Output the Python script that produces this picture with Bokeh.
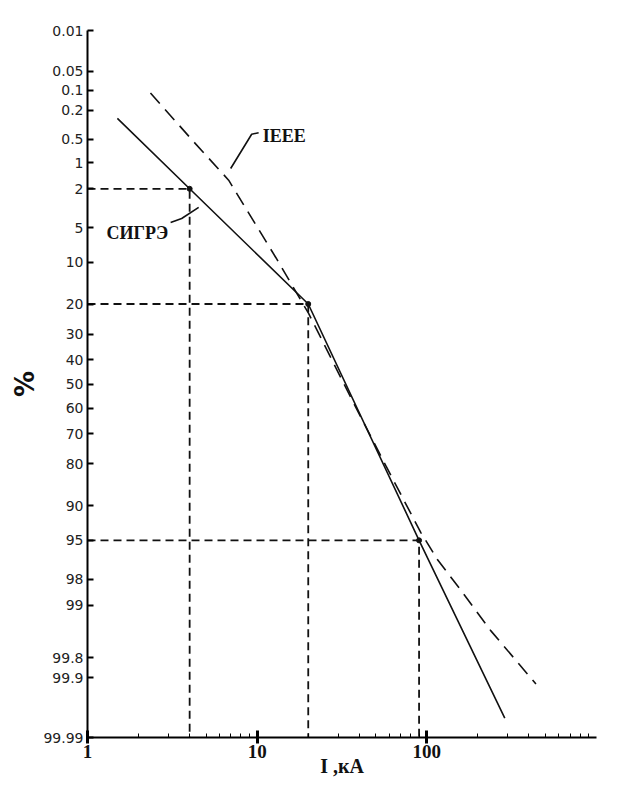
import math
from bokeh.plotting import figure
from bokeh.models import Range1d, FixedTicker, CustomJSTickFormatter
from bokeh.embed import file_html
from bokeh.resources import INLINE
from bokeh.core.properties import value

# ---- data ----
cigre_I = [1.5, 4, 20, 90, 288]
cigre_pct = [0.26, 2, 20, 95, 99.978]

ieee_I = [2.35, 4.16, 6.79, 12.9, 20.1, 35.6, 57.3, 92.2, 116, 158.8, 238.6, 439.6]
ieee_pct = [0.11, 0.52, 1.6, 9.2, 22.9, 55.6, 80.5, 94.1, 96.8, 98.5, 99.53, 99.92]

marker_I = [4, 20, 90]
marker_pct = [2, 20, 95]

y_tick_pct = [0.01, 0.05, 0.1, 0.2, 0.5, 1, 2, 5, 10, 20, 30, 40, 50, 60, 70, 80,
              90, 95, 98, 99, 99.8, 99.9, 99.99]
y_tick_labels = ["0.01", "0.05", "0.1", "0.2", "0.5", "1", "2", "5", "10", "20", "30",
                 "40", "50", "60", "70", "80", "90", "95", "98", "99", "99.8", "99.9",
                 "99.99"]
x_ticks = [1, 10, 100]

# annotations
ieee_label_I, ieee_label_pct = 10.78, 0.46
ieee_leader_I = [10.2, 9.28, 6.98]
ieee_leader_pct = [0.41, 0.43, 1.17]
cigre_label_I, cigre_label_pct = 1.294, 5.66
cigre_leader_I = [3.09, 3.59, 4.52]
cigre_leader_pct = [4.46, 4.08, 3.16]


def ppf(pct):
    """normal probability scale: percent -> standard normal quantile"""
    p = pct / 100.0
    lo, hi = -10.0, 10.0
    for _ in range(200):
        mid = (lo + hi) / 2
        if 0.5 * (1 + math.erf(mid / math.sqrt(2))) < p:
            lo = mid
        else:
            hi = mid
    return (lo + hi) / 2


def zs(lst):
    return [ppf(v) for v in lst]


z_top = ppf(0.01)
z_bot = ppf(99.99)

p = figure(x_axis_type="log", x_range=Range1d(1, 1000), y_range=Range1d(z_bot, z_top),
           frame_width=509, frame_height=707,
           min_border_left=87, min_border_top=30, min_border_right=20, min_border_bottom=8,
           output_backend="svg", toolbar_location=None)
p.outline_line_color = None
p.xgrid.grid_line_color = None
p.ygrid.grid_line_color = None
p.background_fill_color = "white"

# y axis (probability scale)
y_tick_z = zs(y_tick_pct)
yax = p.yaxis[0]
yax.ticker = FixedTicker(ticks=y_tick_z, minor_ticks=[])
yax.formatter = CustomJSTickFormatter(args=dict(zs=y_tick_z, labels=y_tick_labels), code="""
let best = -1, bd = 1e9;
for (let i = 0; i < zs.length; i++) { const d = Math.abs(zs[i] - tick); if (d < bd) { bd = d; best = i; } }
return bd < 1e-6 ? labels[best] : "";
""")
yax.major_tick_in = 6
yax.major_tick_out = 0
yax.minor_tick_in = 0
yax.minor_tick_out = 0
yax.axis_line_width = 2
yax.major_tick_line_width = 2
yax.major_label_standoff = 4
yax.major_label_text_font = "DejaVu Sans"
yax.major_label_text_font_size = "14px"
yax.major_label_text_color = "#222222"
yax.axis_label = "%"
yax.axis_label_text_font = "DejaVu Sans"
yax.axis_label_text_font_style = "bold"
yax.axis_label_text_font_size = "26px"
yax.axis_label_text_color = "#111111"
yax.axis_label_standoff = 0

# x axis (log)
xax = p.xaxis[0]
minor = [m * d for d in (1, 10, 100) for m in range(2, 10)]
xax.ticker = FixedTicker(ticks=x_ticks, minor_ticks=minor)
xax.formatter = CustomJSTickFormatter(code="return tick.toFixed(0);")
xax.major_tick_in = 7
xax.major_tick_out = 6
xax.minor_tick_in = 4
xax.minor_tick_out = 0
xax.axis_line_width = 2
xax.major_tick_line_width = 3
xax.minor_tick_line_width = 1
xax.major_label_standoff = 1
xax.major_label_text_font = "Liberation Serif"
xax.major_label_text_font_style = "bold"
xax.major_label_text_font_size = "19px"
xax.major_label_text_color = "#111111"
xax.axis_label = "I ,кА"
xax.axis_label_text_font = "Liberation Serif"
xax.axis_label_text_font_style = "bold"
xax.axis_label_text_font_size = "20px"
xax.axis_label_text_color = "#111111"
xax.axis_label_standoff = -6

# guide lines (dashed): horizontal from axis, then vertical to the bottom
gx = [[1, xi, xi] for xi in marker_I]
gy = [[ppf(yi), ppf(yi), z_bot] for yi in marker_pct]
p.multi_line(xs=gx, ys=gy, line_color="#111111", line_width=1.8, line_dash="8 5")

# IEEE dashed curve
p.line(ieee_I, zs(ieee_pct), line_color="#111111", line_width=1.6, line_dash="14 8")

# CIGRE solid line
p.line(cigre_I, zs(cigre_pct), line_color="#111111", line_width=1.6)

# markers
p.scatter(marker_I, zs(marker_pct), size=5, color="#111111")

# annotations
p.text(x=[ieee_label_I], y=[ppf(ieee_label_pct)], text=["IEEE"],
       text_font=value("Liberation Serif"), text_font_style="bold",
       text_font_size="18px", text_baseline="middle", text_align="left", text_color="#111111")
p.line(ieee_leader_I, zs(ieee_leader_pct), line_color="#111111", line_width=1.6)
p.text(x=[cigre_label_I], y=[ppf(cigre_label_pct)], text=["СИГРЭ"],
       text_font=value("Liberation Serif"), text_font_style="bold",
       text_font_size="18px", text_baseline="middle", text_align="left", text_color="#111111")
p.line(cigre_leader_I, zs(cigre_leader_pct), line_color="#111111", line_width=1.6)

open("out.html", "w").write(file_html(p, INLINE))
